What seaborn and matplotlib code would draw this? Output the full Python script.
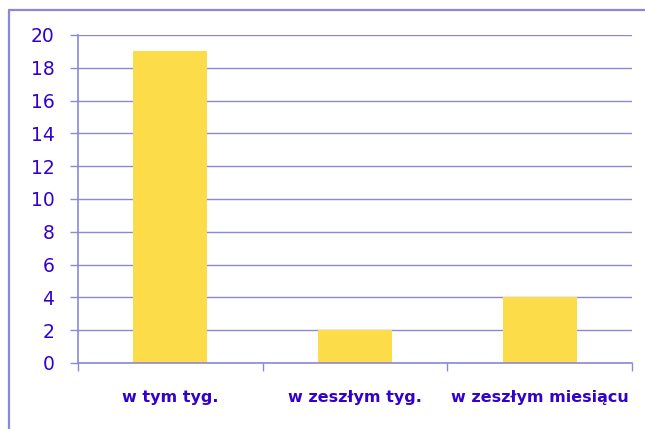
import matplotlib
matplotlib.use("Agg")
import matplotlib.pyplot as plt
import seaborn as sns
import pandas as pd
from matplotlib.lines import Line2D

categories = ["w tym tyg.", "w zeszłym tyg.", "w zeszłym miesiącu"]
values = [19, 2, 4]
y_ticks = list(range(0, 21, 2))

LAV = "#8C87D9"
TXT = "#3300CC"
BAR = "#FDDC4A"

sns.set_style("white")
plt.rcParams["font.family"] = ["DejaVu Sans"]

df = pd.DataFrame({"cat": categories, "val": values})

fig = plt.figure(figsize=(6.45, 4.29), dpi=100)
ax = fig.add_axes([78 / 645, 1 - 363 / 429, (632 - 78) / 645, (363 - 35) / 429])
sns.barplot(data=df, x="cat", y="val", color=BAR, width=0.4, saturation=1,
            edgecolor="none", linewidth=0, ax=ax)

ax.set_ylim(0, 20)
ax.set_xlim(-0.5, 2.5)
ax.set_yticks(y_ticks)
ax.set_yticklabels([str(t) for t in y_ticks], color=TXT, fontsize=13.5)
ax.yaxis.grid(True, color=LAV, linewidth=1)
ax.set_axisbelow(True)
ax.set_xlabel(""); ax.set_ylabel("")

# category labels without major ticks, boundary ticks as minor
ax.tick_params(axis="x", which="major", bottom=False, pad=16, labelsize=11.5, labelcolor=TXT)
for lbl in ax.get_xticklabels():
    lbl.set_fontweight("bold")
ax.set_xticks([-0.5, 0.5, 1.5, 2.5], minor=True)
ax.tick_params(axis="x", which="minor", bottom=True, length=6, color=LAV, width=1, direction="out")
ax.tick_params(axis="y", left=True, length=6, color=LAV, width=1, direction="out", pad=11)

for s in ["top", "right"]:
    ax.spines[s].set_visible(False)
for s in ["left", "bottom"]:
    ax.spines[s].set_color(LAV)
    ax.spines[s].set_linewidth(1.2)

# outer frame (left and top only visible in the crop)
fig.add_artist(Line2D([8.5 / 645, 8.5 / 645], [0, 1 - 10 / 429], transform=fig.transFigure, color=LAV, lw=1.6))
fig.add_artist(Line2D([8.5 / 645, 1], [1 - 10 / 429, 1 - 10 / 429], transform=fig.transFigure, color=LAV, lw=1.6))

fig.savefig("out.png", dpi=100)
plt.close()
